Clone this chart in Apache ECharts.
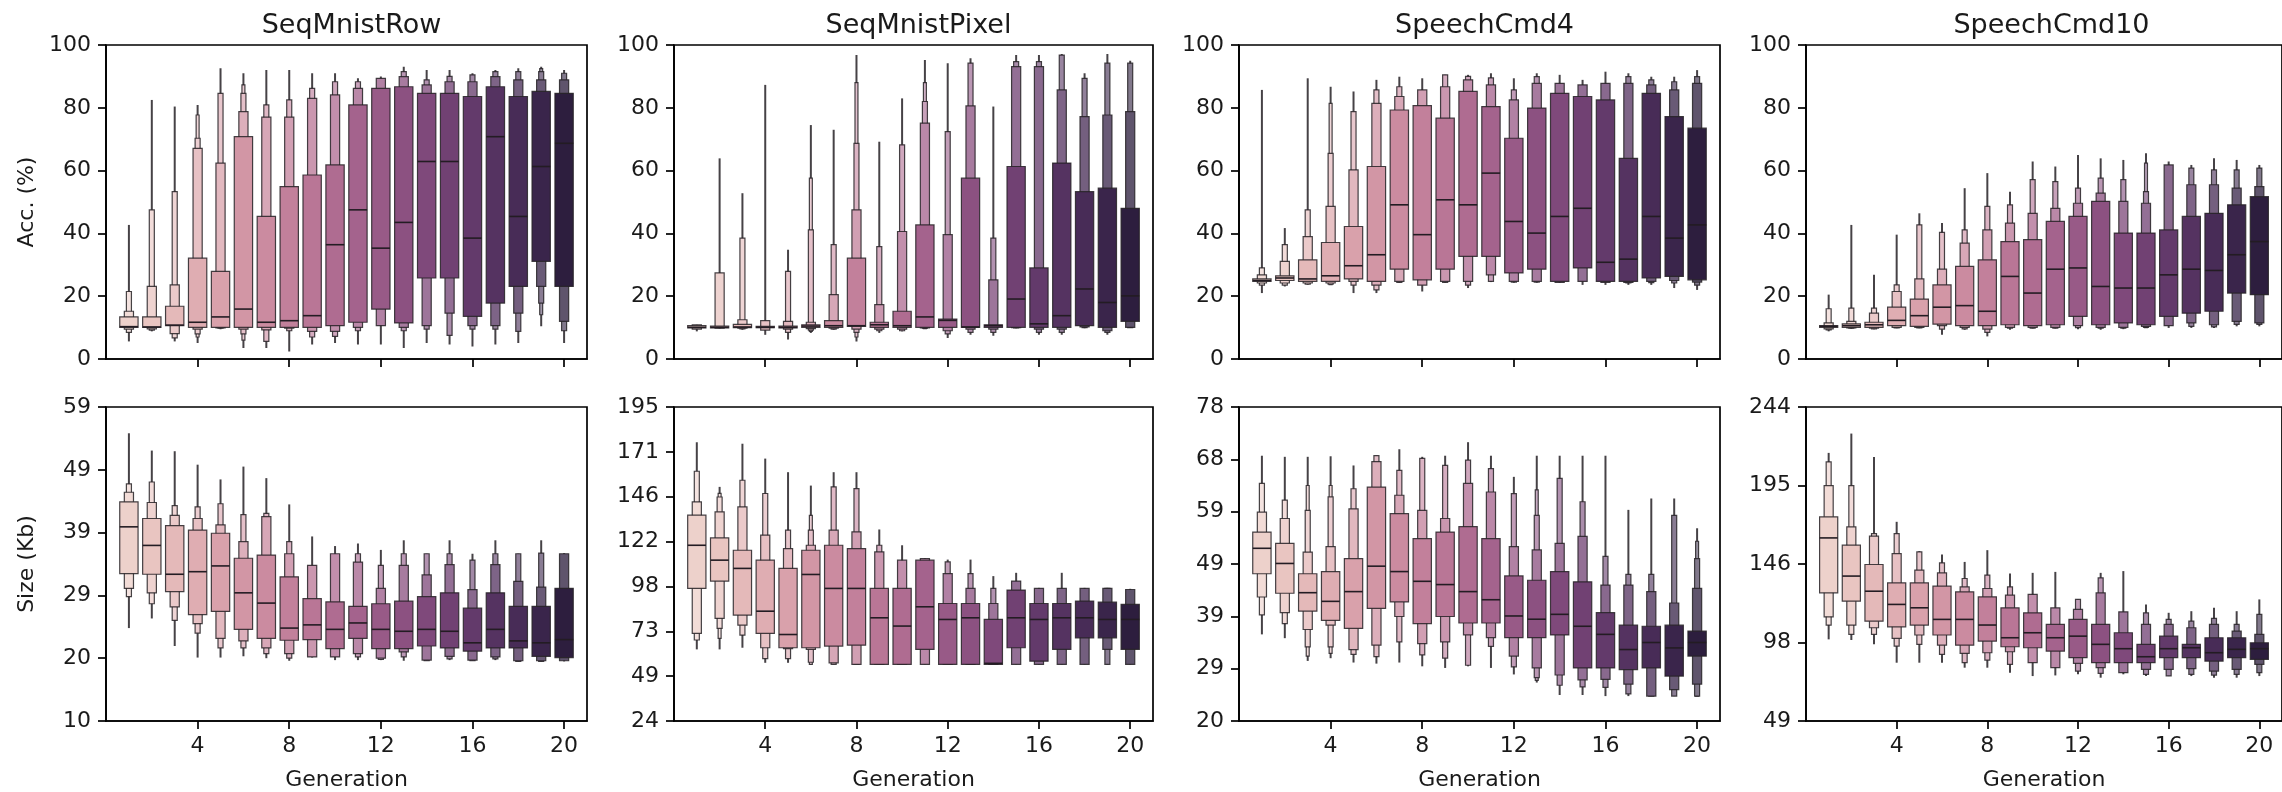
<!DOCTYPE html>
<html>
<head>
<meta charset="utf-8">
<script src="https://cdn.jsdelivr.net/npm/echarts@6/dist/echarts.min.js"></script>
<style>
html,body{margin:0;padding:0;background:#fff;}
#chart{width:2282px;height:792px;}
</style>
</head>
<body>
<div id="chart"></div>
<script>
// ---------------- DATA ----------------
const generations = [1,2,3,4,5,6,7,8,9,10,11,12,13,14,15,16,17,18,19,20];
const titles = ['SeqMnistRow','SeqMnistPixel','SpeechCmd4','SpeechCmd10'];
const xTickValues = [4,8,12,16,20];
const accTickValues = [0,20,40,60,80,100];
// size axes: labelled ticks equally spaced between min and max
const rowSizeRange = [10,59];
const rowSizeTickLabels = ['10','20','29','39','49','59'];
const pixelSizeRange = [24,195];
const pixelSizeTickLabels = ['24','49','73','98','122','146','171','195'];
const cmd4SizeRange = [20,78];
const cmd4SizeTickLabels = ['20','29','39','49','59','68','78'];
const cmd10SizeRange = [49,244];
const cmd10SizeTickLabels = ['49','98','146','195','244'];

// row: [median, lo1,hi1, lo2,hi2, lo3,hi3, lo4,hi4, min,max]  (level 1 = widest box)
const seqMnistRowAcc = [
 [10.3, 10.1,13.4, 9.5,15.2, 8.5,21.5, null,null, 5.6,42.7],
 [10.2, 10.1,13.4, 9.6,23.1, 9.2,47.5, null,null, 8.8,82.5],
 [10.8, 10.6,16.8, 8.1,23.6, 6.7,53.3, null,null, 5.6,80.4],
 [11.7, 10.1,32.1, 9.5,67.1, 8.0,70.3, 7.0,77.7, 5.1,80.9],
 [13.4, 10.1,27.9, 9.9,62.4, 9.8,84.6, null,null, 9.5,92.6],
 [15.9, 10.1,70.8, 9.5,78.8, 8.0,84.6, 6.0,87.3, 3.5,91.0],
 [11.7, 10.1,45.4, 9.3,77.0, 5.6,80.9, null,null, 3.5,92.0],
 [12.2, 10.1,54.9, 9.8,77.0, 9.0,82.5, null,null, 2.4,92.0],
 [13.8, 10.1,58.6, 8.8,83.0, 7.0,86.2, null,null, 4.6,91.0],
 [36.4, 10.6,61.8, 8.8,84.1, 7.2,88.3, null,null, 5.1,91.0],
 [47.5, 11.7,80.9, 10.1,86.2, 9.0,88.3, null,null, 4.6,89.4],
 [35.3, 15.9,86.2, 10.6,89.4, null,null, null,null, 4.6,90.0],
 [43.5, 11.5,86.7, 10.1,89.9, 9.0,91.5, null,null, 3.5,93.1],
 [62.9, 25.8,84.6, 10.6,87.3, 9.5,88.9, null,null, 5.1,92.0],
 [62.9, 25.8,84.6, 14.6,88.3, 7.5,90.0, null,null, 4.6,92.0],
 [38.5, 13.6,83.6, 10.6,88.3, 9.5,90.5, null,null, 4.0,91.0],
 [70.8, 17.8,86.7, 10.6,89.9, 9.5,91.5, null,null, 4.6,92.0],
 [45.4, 23.1,83.6, 14.6,88.9, 8.8,91.5, null,null, 5.1,92.6],
 [61.3, 31.1,85.2, 23.1,88.9, 17.8,91.5, 14.1,92.5, 10.4,93.1],
 [68.7, 23.1,84.6, 12.0,88.9, 9.0,91.0, null,null, 5.1,92.0]
];
const seqMnistPixelAcc = [
 [10.1, 9.9,10.6, 9.5,10.9, null,null, null,null, 8.8,10.9],
 [10.1, 9.9,10.5, 9.8,27.4, null,null, null,null, 9.7,63.9],
 [10.2, 10.0,11.0, 9.8,12.5, 9.6,38.5, null,null, 9.3,52.8],
 [10.1, 10.0,10.4, 9.2,12.2, null,null, null,null, 7.7,87.3],
 [10.1, 9.9,10.5, 9.5,12.0, 8.5,27.9, null,null, 6.2,34.8],
 [10.5, 10.1,10.9, 9.7,11.7, 9.2,41.1, 8.8,57.6, 8.3,74.5],
 [10.6, 10.1,12.2, 9.8,20.5, 9.5,36.4, null,null, 9.3,73.0],
 [10.6, 10.4,32.1, 9.5,47.5, 8.5,68.7, 7.0,88.0, 5.6,96.8],
 [10.9, 10.1,11.7, 9.5,17.3, 9.0,35.8, null,null, 8.3,69.2],
 [10.6, 10.1,15.2, 9.5,40.6, 9.0,68.2, null,null, 8.8,83.0],
 [13.4, 10.1,42.7, 9.9,75.1, 9.8,82.0, 9.7,88.0, 9.6,95.2],
 [12.3, 10.1,12.7, 9.0,39.6, 8.0,72.4, null,null, 6.7,94.2],
 [10.2, 10.1,57.6, 9.5,80.6, 8.5,94.2, null,null, 7.7,95.8],
 [10.6, 10.1,10.9, 9.5,25.2, 8.5,38.5, null,null, 7.4,80.4],
 [19.1, 10.1,61.3, 10.0,93.1, 9.9,94.7, null,null, 9.8,96.8],
 [11.2, 10.1,29.0, 9.5,93.1, 8.5,94.7, null,null, 7.7,96.8],
 [13.8, 10.1,62.4, 9.5,85.7, 8.5,96.8, null,null, 7.7,97.1],
 [22.3, 10.6,53.3, 10.2,77.2, 10.0,89.4, null,null, 9.8,91.0],
 [18.0, 10.1,54.4, 9.0,77.7, 8.5,94.2, null,null, 7.7,97.1],
 [20.1, 12.0,48.0, 10.1,78.8, 10.0,94.2, null,null, 9.9,95.0]
];
const speechCmd4Acc = [
 [25.0, 24.7,25.5, 24.2,26.8, 23.5,29.0, null,null, 21.0,85.7],
 [25.8, 25.0,26.5, 24.2,31.1, 23.5,36.4, null,null, 23.1,41.7],
 [25.5, 24.7,31.6, 24.2,39.0, 23.8,47.5, null,null, 23.6,89.4],
 [26.5, 24.7,37.1, 24.2,48.6, 23.8,65.5, 23.7,81.4, 23.6,86.7],
 [29.7, 25.5,42.2, 24.7,60.2, 23.5,78.8, null,null, 21.0,85.2],
 [33.2, 24.7,61.3, 23.5,81.4, 22.0,85.7, null,null, 21.0,88.9],
 [49.1, 28.6,79.3, 24.7,83.6, 24.4,86.7, null,null, 24.2,89.9],
 [39.6, 25.2,80.7, 23.5,85.7, null,null, null,null, 21.5,89.4],
 [50.7, 28.6,76.7, 24.7,86.7, 24.4,90.5, null,null, 24.2,90.5],
 [49.1, 32.7,85.2, 24.7,88.9, 23.5,90.0, null,null, 22.6,90.5],
 [59.2, 32.7,80.4, 26.8,87.3, 24.7,89.5, null,null, 24.5,91.0],
 [43.8, 27.4,70.3, 24.7,82.5, 24.5,85.7, null,null, 24.3,89.4],
 [40.1, 28.6,79.9, 24.7,87.8, 24.5,89.9, null,null, 24.3,91.0],
 [45.4, 24.7,84.6, 24.4,87.8, null,null, null,null, 24.2,90.5],
 [48.0, 29.0,83.6, 24.7,87.3, null,null, null,null, 23.6,88.9],
 [30.8, 24.7,82.5, 24.4,87.8, null,null, null,null, 23.6,91.5],
 [31.8, 24.7,63.9, 24.4,87.8, 24.2,89.9, null,null, 23.6,91.0],
 [45.4, 25.8,84.6, 24.7,87.3, 24.3,88.9, null,null, 23.6,89.9],
 [38.5, 26.3,77.2, 25.0,85.7, 24.2,88.3, null,null, 22.6,89.9],
 [42.7, 25.2,73.5, 24.5,87.8, 23.5,89.9, null,null, 22.0,92.0]
];
const speechCmd10Acc = [
 [10.4, 10.1,10.6, 9.6,11.5, 9.3,16.0, null,null, 8.8,20.5],
 [10.6, 10.1,11.2, 9.9,12.0, 9.8,16.2, null,null, 9.6,42.7],
 [10.9, 10.1,11.7, 9.8,14.6, 9.6,16.2, null,null, 9.5,26.8],
 [12.3, 10.6,16.5, 10.1,21.5, 9.9,23.6, null,null, 9.8,39.6],
 [13.8, 10.4,19.1, 10.1,25.5, 9.9,42.7, null,null, 9.8,46.4],
 [16.5, 11.1,23.6, 10.6,28.6, 9.5,40.3, null,null, 7.7,43.3],
 [17.0, 10.6,29.5, 10.1,36.9, 9.6,41.1, null,null, 9.3,54.4],
 [15.2, 10.6,31.6, 9.5,41.1, 8.5,48.6, null,null, 7.2,59.2],
 [26.3, 10.9,37.4, 10.1,43.3, 9.8,49.1, null,null, 9.3,53.3],
 [21.0, 10.6,38.0, 10.1,46.4, 9.8,57.1, null,null, 9.7,62.9],
 [28.6, 10.9,43.8, 10.1,48.0, 9.8,56.5, null,null, 9.7,61.3],
 [29.0, 13.6,45.4, 10.6,49.6, 10.0,54.4, null,null, 9.5,65.0],
 [23.1, 10.9,50.2, 10.1,52.8, 9.8,57.6, null,null, 9.3,63.9],
 [22.6, 11.5,40.1, 10.1,50.2, 9.8,57.1, null,null, 9.5,63.4],
 [22.6, 10.9,40.1, 10.4,49.6, 10.1,53.3, 10.0,62.4, 9.9,65.5],
 [26.8, 13.6,41.1, 10.6,61.8, null,null, null,null, 9.9,62.9],
 [28.6, 14.6,45.4, 11.5,55.5, 10.4,60.8, null,null, 9.9,61.8],
 [28.2, 15.2,46.4, 10.9,55.5, 10.2,60.2, null,null, 9.9,63.9],
 [33.2, 21.0,49.1, 12.0,54.4, 11.0,60.2, null,null, 10.4,63.4],
 [37.4, 20.5,51.7, 11.5,54.9, 11.0,60.8, null,null, 10.4,61.8]
];
const seqMnistRowSize = [
 [40.3, 33.0,44.2, 30.7,45.7, 29.4,47.0, null,null, 24.5,54.9],
 [37.4, 32.9,41.6, 30.0,44.1, 28.3,47.3, null,null, 26.0,52.2],
 [32.9, 30.2,40.5, 27.8,42.1, 25.7,43.6, null,null, 21.7,52.1],
 [33.3, 26.6,39.8, 25.2,41.6, 23.7,43.4, null,null, 19.9,50.0],
 [34.2, 27.1,39.3, 22.9,40.6, 21.4,43.9, null,null, 19.9,47.7],
 [30.0, 24.3,35.4, 22.5,38.0, 21.4,42.2, null,null, 20.1,49.7],
 [28.4, 22.9,35.9, 21.4,41.9, 20.5,42.4, null,null, 19.8,47.9],
 [24.5, 22.6,32.5, 20.5,36.1, 19.8,38.0, null,null, 19.4,43.8],
 [25.0, 22.7,29.1, 20.0,34.3, null,null, null,null, 19.9,38.8],
 [24.3, 21.3,28.6, 20.0,36.1, null,null, null,null, 19.5,37.3],
 [25.3, 22.9,27.9, 20.5,34.8, 20.0,36.1, null,null, 19.5,37.7],
 [24.3, 21.3,28.3, 19.8,30.7, 19.6,34.3, null,null, 19.5,36.7],
 [24.0, 21.3,28.7, 20.8,34.3, 20.0,36.1, null,null, 19.4,38.2],
 [24.3, 21.7,29.4, 19.5,32.8, 19.4,36.1, null,null, 19.4,36.1],
 [24.0, 21.4,30.0, 20.1,34.4, 19.7,36.1, null,null, 19.5,38.2],
 [22.2, 20.9,27.6, 19.5,30.5, 19.4,35.1, null,null, 19.4,36.1],
 [24.3, 21.4,30.0, 20.0,34.4, 19.7,36.1, null,null, 19.5,38.2],
 [22.5, 21.4,27.9, 19.4,31.8, 19.3,36.1, null,null, 19.3,36.1],
 [22.2, 20.1,27.9, 19.4,30.9, 19.3,36.2, null,null, 19.3,38.2],
 [22.7, 19.9,30.7, 19.4,36.1, null,null, null,null, 19.3,36.2]
];
const seqMnistPixelSize = [
 [119.7, 96.2,136.1, 71.7,143.3, 68.1,160.0, null,null, 63.0,175.8],
 [111.6, 100.2,123.7, 79.9,137.9, 74.4,146.0, 69.0,148.0, 63.0,151.5],
 [107.1, 81.7,117.0, 76.2,140.6, 70.8,155.1, null,null, 63.9,175.0],
 [83.8, 71.7,111.6, 63.9,125.2, 58.0,147.9, null,null, 55.7,166.9],
 [71.1, 63.9,107.1, 63.4,117.9, 58.0,127.9, null,null, 55.7,159.5],
 [103.8, 63.9,117.0, 63.0,119.7, 56.0,127.9, 54.8,136.0, 54.8,152.2],
 [96.2, 64.8,119.7, 55.7,127.9, 54.8,151.5, null,null, 54.8,159.5],
 [96.2, 65.3,117.9, 54.8,127.0, 54.8,150.6, null,null, 54.8,159.5],
 [80.2, 54.8,96.2, 54.8,116.1, 54.8,119.7, null,null, 54.8,128.3],
 [75.7, 54.8,96.2, 54.8,111.6, null,null, null,null, 54.8,119.7],
 [86.2, 63.0,111.6, 54.8,112.5, null,null, null,null, 54.8,112.7],
 [79.3, 54.8,88.0, 54.8,104.3, 54.8,110.7, null,null, 54.8,111.9],
 [80.2, 54.8,88.0, 54.8,96.2, 54.8,104.3, null,null, 54.8,111.9],
 [55.4, 54.8,79.3, 54.8,88.0, 54.8,96.2, null,null, 54.8,102.9],
 [80.2, 63.9,95.3, 54.8,100.2, null,null, null,null, 54.8,104.7],
 [79.3, 56.6,88.0, 54.8,96.2, null,null, null,null, 54.8,96.5],
 [80.2, 63.0,88.0, 54.8,96.2, null,null, null,null, 54.8,104.7],
 [80.2, 69.3,89.3, 54.8,96.2, null,null, null,null, 54.8,96.5],
 [79.3, 69.3,88.7, 63.0,96.2, 54.8,96.3, null,null, 54.8,96.5],
 [79.3, 63.0,87.5, 54.8,95.6, null,null, null,null, 54.8,96.0]
];
const speechCmd4Size = [
 [51.9, 47.2,54.9, 42.9,58.6, 39.6,63.9, null,null, 36.0,69.0],
 [49.1, 43.6,52.8, 40.0,57.4, 38.0,60.8, null,null, 35.3,68.8],
 [43.7, 40.3,47.2, 36.9,51.2, 33.7,58.9, 32.0,63.5, 31.1,68.8],
 [42.1, 38.6,47.6, 37.7,52.2, 33.7,61.4, 32.5,63.5, 31.6,68.9],
 [43.9, 37.1,50.0, 33.2,59.2, 32.3,62.9, null,null, 30.8,67.2],
 [48.6, 40.8,63.2, 34.0,67.9, 31.9,69.0, null,null, 30.6,69.0],
 [47.6, 42.0,58.3, 39.3,61.7, 34.6,66.3, null,null, 30.8,70.2],
 [45.8, 38.0,53.7, 34.3,58.9, 32.2,68.5, null,null, 30.1,68.8],
 [45.2, 39.3,54.9, 34.6,57.4, 31.6,67.2, null,null, 29.8,69.0],
 [43.9, 38.1,55.9, 35.9,63.9, 30.3,68.2, null,null, 30.1,71.5],
 [42.4, 38.1,53.7, 35.4,62.3, 33.8,66.6, null,null, 29.8,69.0],
 [39.4, 35.4,46.8, 32.0,52.2, 30.0,62.0, null,null, 28.6,65.1],
 [38.8, 35.4,46.0, 29.8,51.6, 28.0,58.0, 27.5,62.7, 27.1,69.0],
 [39.7, 35.9,47.6, 28.5,52.8, 26.6,64.8, null,null, 24.8,69.0],
 [37.5, 29.8,45.7, 27.6,54.1, 26.3,60.5, null,null, 24.8,69.0],
 [36.0, 29.8,40.0, 27.7,45.1, 26.2,50.4, null,null, 24.6,69.0],
 [33.2, 29.5,37.7, 26.8,45.1, 25.0,47.1, null,null, 24.6,59.0],
 [34.5, 29.8,37.5, 24.6,43.9, 24.6,47.1, null,null, 24.6,61.1],
 [33.5, 28.3,37.7, 25.8,41.8, 24.6,58.0, null,null, 24.6,61.1],
 [34.5, 32.0,36.6, 26.8,44.5, 24.6,50.0, 24.6,53.2, 24.6,55.6]
];
const speechCmd10Size = [
 [162.7, 128.6,175.8, 113.7,195.2, 108.6,209.9, null,null, 99.7,215.5],
 [139.0, 123.4,158.2, 108.6,169.6, 102.8,195.2, null,null, 99.3,227.5],
 [129.6, 111.0,146.2, 106.9,163.8, 102.8,165.4, null,null, 96.6,213.0],
 [121.4, 107.5,134.8, 100.3,153.0, 95.5,165.4, null,null, 85.2,172.7],
 [119.3, 108.6,134.8, 102.4,142.7, 96.6,154.0, null,null, 85.2,154.5],
 [112.1, 102.4,132.7, 96.1,141.0, 90.4,147.2, null,null, 85.2,152.4],
 [112.1, 96.1,129.2, 91.0,132.3, 85.2,137.5, null,null, 82.1,147.8],
 [108.6, 98.6,126.1, 91.4,131.3, 86.8,139.6, null,null, 82.1,155.1],
 [100.7, 95.1,119.3, 92.0,127.2, 84.2,132.3, null,null, 79.0,140.6],
 [103.8, 94.5,116.2, 85.2,127.6, null,null, null,null, 76.9,141.0],
 [100.7, 92.4,109.0, 82.1,119.3, null,null, null,null, 77.3,141.6],
 [101.7, 88.3,112.1, 84.8,118.3, 80.0,124.5, null,null, 78.0,124.5],
 [96.6, 85.2,109.0, 82.1,128.6, 78.6,137.9, null,null, 75.9,141.0],
 [93.9, 85.2,103.8, 79.0,116.8, null,null, null,null, 78.0,142.1],
 [88.9, 85.2,96.6, 81.0,109.0, 78.0,116.2, null,null, 76.9,121.4],
 [93.9, 88.3,101.7, 81.0,109.0, 77.0,112.1, null,null, 76.9,116.2],
 [94.5, 88.3,96.6, 81.5,106.9, 78.0,111.0, null,null, 76.9,117.2],
 [91.4, 86.2,100.7, 80.0,109.0, 77.5,112.7, null,null, 75.9,119.3],
 [93.5, 88.3,100.7, 81.0,104.8, 78.0,109.0, null,null, 75.9,117.2],
 [93.9, 87.3,97.6, 84.2,102.8, 79.0,115.2, null,null, 76.9,124.5]
];

// ---------------- STYLE / LAYOUT ----------------
const FONT = 'DejaVu Sans';
const TXT = '#1a1a1a';
const TICK_FS = 22, LABEL_FS = 22, TITLE_FS = 27;
const panelLeft = [106, 674, 1239, 1806];
const panelWidth = [481, 479, 481, 481];
const rowTop = [45, 407];
const rowHeight = [314, 315];
const LEVEL_W = [0.8, 0.4, 0.22, 0.13];
const LEVEL_FADE = [0, 0.24, 0.40, 0.52];
const EDGE = 'rgba(38,34,38,0.85)';

function cubehelix(x) {
  const start = 0, rot = 0.4, gamma = 1, hue = 0.8;
  const xg = Math.pow(x, gamma);
  const a = hue * xg * (1 - xg) / 2;
  const phi = 2 * Math.PI * (start / 3 + rot * x);
  const c = Math.cos(phi), s = Math.sin(phi);
  const r = xg + a * (-0.14861 * c + 1.78277 * s);
  const g = xg + a * (-0.29227 * c - 0.90649 * s);
  const b = xg + a * (1.97294 * c);
  return [r, g, b].map(v => Math.max(0, Math.min(1, v)) * 255);
}
function genColor(i) {
  return cubehelix(0.85 - 0.70 * i / (generations.length - 1));
}
function mixWhite(rgb, f) {
  const c = rgb.map(v => Math.round(v + (255 - v) * f));
  return 'rgb(' + c.join(',') + ')';
}
function linspace(a, b, n) {
  const out = [];
  for (let i = 0; i < n; i++) out.push(a + (b - a) * i / (n - 1));
  return out;
}

function renderBoxen(rows) {
  return function (params, api) {
    const i = params.dataIndex;
    const r = rows[i];
    const g = generations[i];
    const base = genColor(i);
    const children = [];
    const cx = api.coord([g, r[0]])[0];
    if (r[9] != null && r[10] != null) {
      const yA = api.coord([g, r[9]])[1], yB = api.coord([g, r[10]])[1];
      children.push({type: 'line', shape: {x1: cx, y1: yA, x2: cx, y2: yB},
        style: {stroke: 'rgba(50,46,50,0.9)', lineWidth: 2}});
    }
    for (let k = 3; k >= 0; k--) {
      const lo = r[1 + 2 * k], hi = r[2 + 2 * k];
      if (lo == null || hi == null) continue;
      const w = api.size([LEVEL_W[k], 0])[0];
      const yTop = api.coord([g, hi])[1], yBot = api.coord([g, lo])[1];
      children.push({type: 'rect',
        shape: {x: cx - w / 2, y: yTop, width: w, height: Math.max(yBot - yTop, 1)},
        style: {fill: mixWhite(base, LEVEL_FADE[k]), stroke: EDGE, lineWidth: 1.2}});
    }
    const wm = api.size([LEVEL_W[0], 0])[0];
    const ym = api.coord([g, r[0]])[1];
    children.push({type: 'line', shape: {x1: cx - wm / 2, y1: ym, x2: cx + wm / 2, y2: ym},
      style: {stroke: '#231c23', lineWidth: 1.6}});
    return {type: 'group', children};
  };
}

const accPanels = [seqMnistRowAcc, seqMnistPixelAcc, speechCmd4Acc, speechCmd10Acc];
const sizePanels = [seqMnistRowSize, seqMnistPixelSize, speechCmd4Size, speechCmd10Size];
const sizeRanges = [rowSizeRange, pixelSizeRange, cmd4SizeRange, cmd10SizeRange];
const sizeLabels = [rowSizeTickLabels, pixelSizeTickLabels, cmd4SizeTickLabels, cmd10SizeTickLabels];

const grids = [], xAxes = [], yAxes = [], series = [], titleList = [];
const axisLineStyle = {color: '#000', width: 1.7};
const labelStyle = {fontFamily: FONT, fontSize: TICK_FS, color: TXT};

for (let row = 0; row < 2; row++) {
  for (let p = 0; p < 4; p++) {
    const gi = row * 4 + p;
    grids.push({left: panelLeft[p], top: rowTop[row], width: panelWidth[p], height: rowHeight[row],
      show: true, borderColor: '#000', borderWidth: 1.7, backgroundColor: 'transparent', containLabel: false});
    xAxes.push({type: 'value', gridIndex: gi, min: 0, max: 21,
      axisLine: {show: true, onZero: false, lineStyle: axisLineStyle},
      splitLine: {show: false},
      axisTick: {show: true, customValues: xTickValues, length: 8, lineStyle: axisLineStyle},
      axisLabel: Object.assign({show: row === 1, customValues: xTickValues, margin: 14}, labelStyle),
      name: row === 1 ? 'Generation' : '', nameLocation: 'middle', nameGap: 48,
      nameTextStyle: {fontFamily: FONT, fontSize: LABEL_FS, color: TXT}
    });
    let yAxis;
    if (row === 0) {
      yAxis = {type: 'value', gridIndex: gi, min: 0, max: 100,
        axisTick: {show: true, customValues: accTickValues, length: 8, lineStyle: axisLineStyle},
        axisLabel: Object.assign({customValues: accTickValues, margin: 15}, labelStyle),
        name: p === 0 ? 'Acc. (%)' : ''};
    } else {
      const rng = sizeRanges[p];
      const labs = sizeLabels[p];
      const pos = linspace(rng[0], rng[1], labs.length);
      yAxis = {type: 'value', gridIndex: gi, min: rng[0], max: rng[1],
        axisTick: {show: true, customValues: pos, length: 8, lineStyle: axisLineStyle},
        axisLabel: Object.assign({customValues: pos, margin: 15,
          formatter: function (v) {
            let best = 0;
            pos.forEach((q, k) => { if (Math.abs(q - v) < Math.abs(pos[best] - v)) best = k; });
            return labs[best];
          }}, labelStyle),
        name: p === 0 ? 'Size (Kb)' : ''};
    }
    Object.assign(yAxis, {
      axisLine: {show: true, onZero: false, lineStyle: axisLineStyle},
      splitLine: {show: false},
      nameLocation: 'middle', nameGap: 68, nameRotate: 90,
      nameTextStyle: {fontFamily: FONT, fontSize: LABEL_FS, color: TXT}
    });
    yAxes.push(yAxis);
    const rows = row === 0 ? accPanels[p] : sizePanels[p];
    series.push({type: 'custom', xAxisIndex: gi, yAxisIndex: gi,
      renderItem: renderBoxen(rows), clip: false,
      encode: {x: 0, y: [1, 2]},
      data: generations.map((g, i) => [g, rows[i][9] != null ? rows[i][9] : rows[i][1], rows[i][10] != null ? rows[i][10] : rows[i][2]])
    });
  }
}
titles.forEach((t, p) => {
  titleList.push({text: t, left: panelLeft[p] + panelWidth[p] / 2, top: 7, textAlign: 'center',
    textStyle: {fontFamily: FONT, fontSize: TITLE_FS, fontWeight: 'normal', color: TXT}});
});

const chart = echarts.init(document.getElementById('chart'), null, {renderer: 'canvas'});
chart.setOption({
  animation: false,
  backgroundColor: '#fff',
  title: titleList,
  grid: grids,
  xAxis: xAxes,
  yAxis: yAxes,
  series: series
});
</script>
</body>
</html>
